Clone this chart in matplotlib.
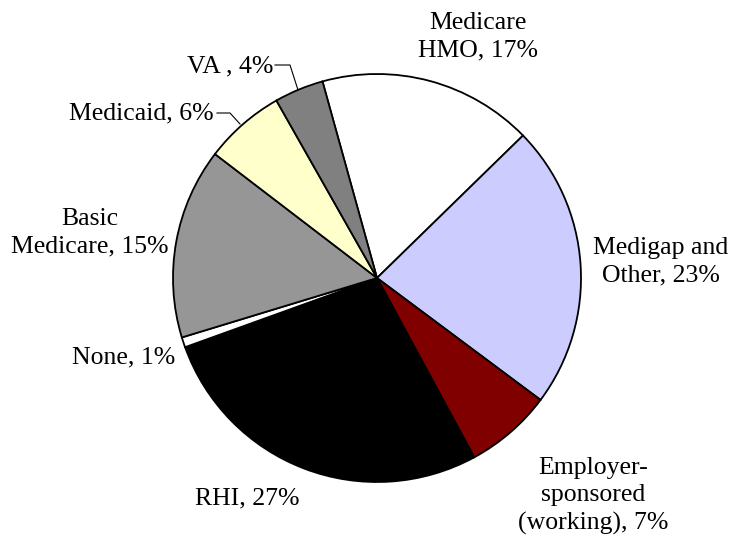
import matplotlib
matplotlib.use("Agg")
import matplotlib.pyplot as plt

### Data ###
categories = ["Medicare HMO", "Medigap and Other", "Employer-sponsored (working)",
              "RHI", "None", "Basic Medicare", "Medicaid", "VA"]
shares = [17.0, 22.5, 6.9, 27.4, 0.8, 15.1, 6.4, 3.9]
label_texts = ["Medicare\nHMO, 17%", "Medigap and\nOther, 23%",
               "Employer-\nsponsored\n(working), 7%", "RHI, 27%", "None, 1%",
               "Basic\nMedicare, 15%", "Medicaid, 6%", "VA , 4%"]
colors = ["#FFFFFF", "#CCCCFF", "#800000", "#000000", "#FFFFFF",
          "#969696", "#FFFFCC", "#808080"]

### Layout (pixel-like data coords, y up) ###
W, H = 736, 546
center = (377, 268)
radius = 204
label_pos = [(478, 509, "center"), (661, 284, "center"), (593, 50, "center"),
             (247, 48, "center"), (124, 189, "center"), (90, 313, "center"),
             (214, 433, "right"), (273, 480, "right")]
# leader lines for the two small labels
leaders = {
    "Medicaid": ([217, 230, 240], [433, 433, 422]),
    "VA": ([275, 290, 298], [481, 481, 456]),
}

plt.rcParams['font.family'] = ['Liberation Serif', 'DejaVu Serif']

fig = plt.figure(figsize=(W / 100, H / 100), dpi=100)
ax = fig.add_axes([0, 0, 1, 1])

ax.pie(shares, colors=colors, startangle=105.5, counterclock=False,
       center=center, radius=radius, frame=True,
       wedgeprops=dict(edgecolor="black", linewidth=1.3))

for text, (x, y, ha) in zip(label_texts, label_pos):
    ax.text(x, y, text, ha=ha, va="center", multialignment="center",
            fontsize=18.5, linespacing=1.3, color="black")

for xs, ys in leaders.values():
    ax.plot(xs, ys, color="black", linewidth=0.8)

ax.set_xlim(0, W)
ax.set_ylim(0, H)
ax.set_aspect("equal")
ax.axis("off")

fig.savefig("out.png", dpi=100)
